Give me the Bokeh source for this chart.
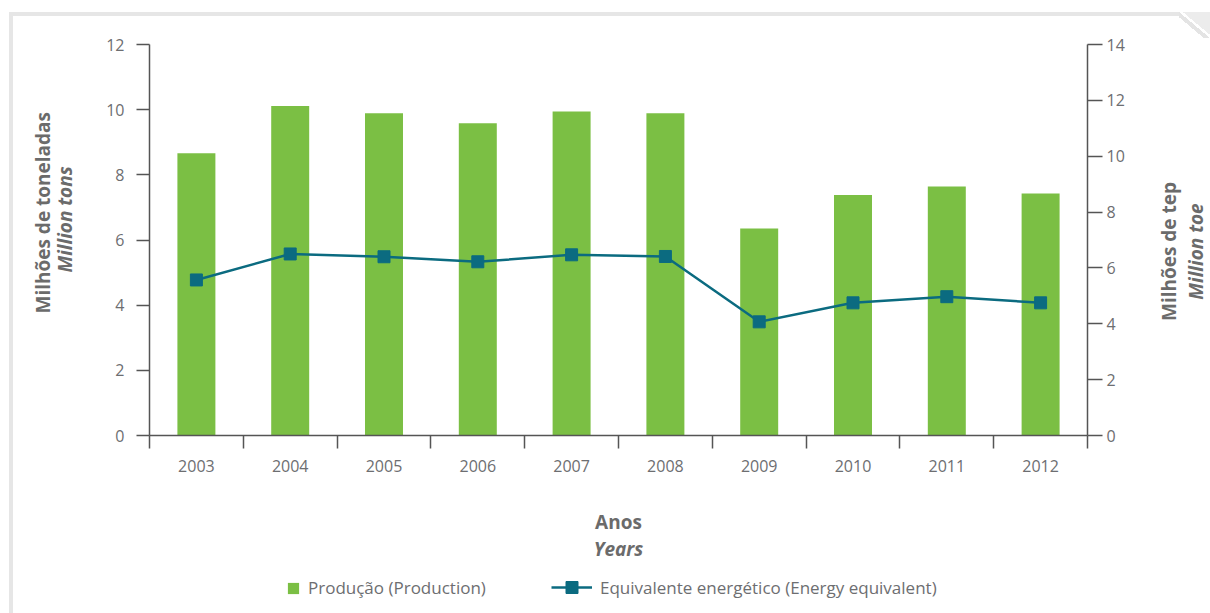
import numpy as np
from bokeh.plotting import figure
from bokeh.layouts import column, row
from bokeh.models import (Range1d, LinearAxis, FixedTicker, Legend, LegendItem, Title, Label,
                          ColumnDataSource)
from bokeh.embed import file_html
from bokeh.resources import INLINE

# ---------------- data ----------------
years = ["2003", "2004", "2005", "2006", "2007", "2008", "2009", "2010", "2011", "2012"]
production = [8.66, 10.11, 9.89, 9.58, 9.94, 9.89, 6.35, 7.38, 7.64, 7.43]   # million tons
energy = [5.57, 6.50, 6.40, 6.22, 6.47, 6.41, 4.07, 4.75, 4.97, 4.75]       # million toe
left_ticks = [0, 2, 4, 6, 8, 10, 12]
right_ticks = [0, 2, 4, 6, 8, 10, 12, 14]

# ---------------- styles ----------------
BAR = "#7bbf44"
LINE = "#0b6b80"
AX = "#555555"
TXT = "#6d6e71"
TTL = "#6b6b6b"
FONT = "Open Sans"
TSIZE = "19px"

W = 1210
PW = 1137            # main chart canvas width
RW = W - PW          # strip holding the right-hand axis titles
H1, H2 = 568, 45
BL, BR, BT, BB = 149, 50, 44, 133
FRAME_B = H1 - BB    # bottom edge of the chart frame (page px)

n = len(years)
centers = [i + 0.5 for i in range(n)]
bounds = list(range(n + 1))

bg = ("linear-gradient(to top right, transparent 40%, #e4e4e4 40%, #e4e4e4 50%, "
      "#ffffff 50%, #ffffff 56%, #ececec 56%) 1179px 12px / 31px 26px no-repeat, "
      "linear-gradient(#e6e6e6, #e6e6e6) 9px 12px / 1171px 4px no-repeat, "
      "linear-gradient(#e6e6e6, #e6e6e6) 9px 12px / 4px 700px no-repeat, #ffffff")

p = figure(width=PW, height=H1, x_range=Range1d(0, n), y_range=Range1d(0, left_ticks[-1]),
           output_backend="svg", toolbar_location=None,
           x_axis_type=None, y_axis_type=None,
           min_border_left=BL, min_border_right=BR, min_border_top=BT, min_border_bottom=BB)
p.extra_y_ranges = {"toe": Range1d(0, right_ticks[-1])}
p.outline_line_color = None
p.background_fill_color = "white"
p.border_fill_color = None

axis_common = dict(axis_line_color=AX, axis_line_width=1.5,
                   major_tick_line_color=AX, major_tick_line_width=1.5,
                   minor_tick_line_color=AX, minor_tick_line_width=1.5,
                   major_label_text_color=TXT, major_label_text_font=FONT,
                   major_label_text_font_size="16px",
                   axis_label_text_color=TTL, axis_label_text_font=FONT)

yl = LinearAxis(ticker=FixedTicker(ticks=left_ticks), major_tick_out=13, major_tick_in=0,
                minor_tick_out=0, minor_tick_in=0, major_label_standoff=12,
                axis_label=" ", axis_label_standoff=0, axis_label_text_font_size="17px",
                **axis_common)
p.add_layout(yl, "left")

yr = LinearAxis(y_range_name="toe", ticker=FixedTicker(ticks=right_ticks), major_tick_out=15,
                major_tick_in=0, minor_tick_out=0, minor_tick_in=0, major_label_standoff=4,
                **axis_common)
p.add_layout(yr, "right")

xa = LinearAxis(ticker=FixedTicker(ticks=centers, minor_ticks=bounds),
                major_label_overrides={c: y for c, y in zip(centers, years)},
                major_tick_out=0, major_tick_in=0, minor_tick_out=13, minor_tick_in=0,
                major_label_standoff=11, axis_label="Anos", axis_label_standoff=34,
                axis_label_text_font_style="bold", axis_label_text_font_size=TSIZE,
                **axis_common)
p.add_layout(xa, "below")

# left titles (reading bottom-to-top), inner first
p.add_layout(Title(text="Million tons", align="left", offset=163, standoff=0,
                   text_font=FONT, text_font_size=TSIZE, text_font_style="bold italic",
                   text_color=TTL), "left")
p.add_layout(Title(text="Milhões de toneladas", align="left", offset=122, standoff=-12,
                   text_font=FONT, text_font_size=TSIZE, text_font_style="bold",
                   text_color=TTL), "left")

# bottom title
p.add_layout(Title(text="Years", align="center", standoff=-8, text_font=FONT,
                   text_font_size=TSIZE, text_font_style="bold italic", text_color=TTL), "below")

# ---------------- marks ----------------
src = ColumnDataSource(dict(x=centers, prod=production, en=energy))
p.vbar(x="x", top="prod", width=0.405, fill_color=BAR, line_color=None, source=src)
p.line("x", "en", y_range_name="toe", line_color=LINE, line_width=2.5, source=src)
p.scatter("x", "en", y_range_name="toe", marker="square", size=12,
          fill_color=LINE, line_color=LINE, source=src)

# ---------------- right-hand titles strip ----------------
rf = figure(width=RW, height=H1, x_range=Range1d(0, 1), y_range=Range1d(0, 1),
            output_backend="svg", toolbar_location=None, x_axis_type=None, y_axis_type=None,
            min_border_left=0, min_border_right=0, min_border_top=BT, min_border_bottom=BB)
rf.outline_line_color = None
rf.background_fill_color = None
rf.border_fill_color = None

def vlabel(text, px, py, style):
    rf.add_layout(Label(x=px - PW, y=FRAME_B - py, x_units="screen", y_units="screen",
                        text=text, angle=np.pi / 2, text_align="center",
                        text_baseline="middle", text_font=FONT, text_font_size=TSIZE,
                        text_font_style=style, text_color=TTL))

vlabel("Milhões de tep", 1168, 251, "bold")
vlabel("Million toe", 1195, 251, "bold italic")

# ---------------- legend strip ----------------
can_unalign = "frame_align" in figure.properties() if hasattr(figure, "properties") else False
LX0 = 0 if can_unalign else BL
lf = figure(width=W, height=H2, x_range=Range1d(0, 1), y_range=Range1d(0, 1),
            output_backend="svg", toolbar_location=None, x_axis_type=None, y_axis_type=None,
            min_border_left=LX0, min_border_right=0, min_border_top=0, min_border_bottom=0)
if can_unalign:
    lf.frame_align = False
lf.outline_line_color = None
lf.background_fill_color = None
lf.border_fill_color = None

# legend proxies: zero-size glyphs, invisible in the strip itself
pb = lf.vbar(x=[0.5], bottom=[0.5], top=[0.5], width=0.0, fill_color=BAR, line_color=None)
pl = lf.line(x=[0.5, 0.5], y=[0.5, 0.5], line_color=LINE, line_width=2.5, line_cap="butt")
ps = lf.scatter(x=[0.5], y=[0.5], marker="square", size=0, fill_color=LINE, line_color=LINE)

leg_common = dict(orientation="horizontal", border_line_color=None, background_fill_alpha=0,
                  padding=0, margin=0, label_text_font=FONT, label_text_font_size="17px",
                  label_text_color=TXT)
leg1 = Legend(items=[LegendItem(label="Produção (Production)", renderers=[pb])],
              location=(286 - LX0, 14), glyph_width=14, glyph_height=14, label_height=14,
              label_standoff=8, **leg_common)
leg2 = Legend(items=[LegendItem(label="Equivalente energético (Energy equivalent)",
                                renderers=[pl, ps])],
              location=(551 - LX0, 11), glyph_width=41, glyph_height=30, label_height=30,
              label_standoff=8, **leg_common)
lf.add_layout(leg1, "center")
lf.add_layout(leg2, "center")

layout = column(row(p, rf, spacing=0), lf, spacing=0, styles={"background": bg})
open("out.html", "w").write(file_html(layout, INLINE))
